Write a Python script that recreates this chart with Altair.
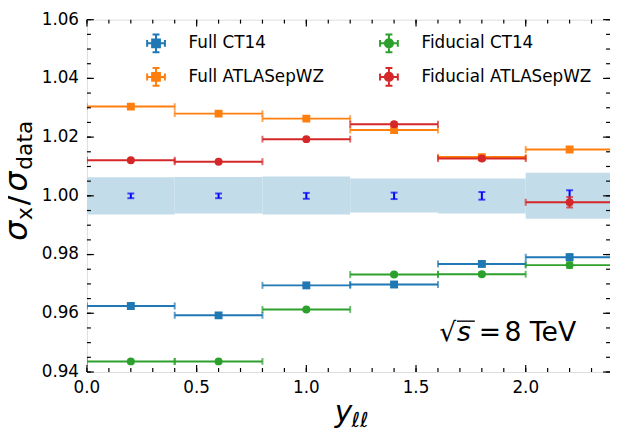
import altair as alt
import pandas as pd

# ---------------- data ----------------
bin_lo = [0.0, 0.4, 0.8, 1.2, 1.6, 2.0]
bin_hi = [0.4, 0.8, 1.2, 1.6, 2.0, 2.4]
bin_center = [0.2, 0.6, 1.0, 1.4, 1.8, 2.2]

full_ct14 = [0.9625, 0.9593, 0.9695, 0.9698, 0.9768, 0.9791]
full_ct14_err = [0.0004, 0.0004, 0.0005, 0.0005, 0.0006, 0.0010]
full_atlas = [1.0304, 1.0280, 1.0263, 1.0224, 1.0132, 1.0158]
full_atlas_err = [0.0004, 0.0004, 0.0005, 0.0005, 0.0006, 0.0008]
fid_ct14 = [0.9436, 0.9436, 0.9613, 0.9732, 0.9733, 0.9764]
fid_ct14_err = [0.0004, 0.0004, 0.0005, 0.0005, 0.0006, 0.0010]
fid_atlas = [1.0121, 1.0116, 1.0193, 1.0244, 1.0127, 0.9978]
fid_atlas_err = [0.0004, 0.0004, 0.0005, 0.0005, 0.0006, 0.0018]

data_ratio = [1.0, 1.0, 1.0, 1.0, 1.0, 1.0]
data_err = [0.0008, 0.0008, 0.0010, 0.0011, 0.0013, 0.0019]
band_down = [0.0064, 0.0060, 0.0064, 0.0057, 0.0060, 0.0078]
band_up = [0.0063, 0.0064, 0.0066, 0.0059, 0.0059, 0.0079]

series_names = ["Full CT14", "Full ATLASepWZ", "Fiducial CT14", "Fiducial ATLASepWZ"]
series_values = [full_ct14, full_atlas, fid_ct14, fid_atlas]
series_errs = [full_ct14_err, full_atlas_err, fid_ct14_err, fid_atlas_err]
series_colors = ["#1f77b4", "#ff7f0e", "#2ca02c", "#d62728"]
series_markers = ["square", "square", "circle", "circle"]

x_major = [0.0, 0.5, 1.0, 1.5, 2.0]
x_labels = ["0.0", "0.5", "1.0", "1.5", "2.0"]
x_minor = [round(0.1 * i, 2) for i in range(0, 25)]
y_major = [0.94, 0.96, 0.98, 1.00, 1.02, 1.04, 1.06]
y_labels = ["0.94", "0.96", "0.98", "1.00", "1.02", "1.04", "1.06"]
y_minor = [round(0.94 + 0.005 * i, 4) for i in range(0, 25)]

# ---------------- layout ----------------
W, H = 530, 357
PX_PER_X = 222.3
X_MAX = W / PX_PER_X
FONT = "DejaVu Sans"

XS = alt.Scale(domain=[0, X_MAX], nice=False, zero=False)
YS = alt.Scale(domain=[0.94, 1.06], nice=False, zero=False)

layers = []

# data uncertainty band
band_df = pd.DataFrame({"lo": bin_lo, "hi": bin_hi, "r": data_ratio,
                        "dn": band_down, "up": band_up})
band = alt.Chart(band_df).transform_calculate(
    y0="datum.r - datum.dn", y1="datum.r + datum.up"
).mark_rect(color="#c3dcea", clip=True).encode(
    x=alt.X("lo:Q", scale=XS, axis=None), x2="hi:Q",
    y=alt.Y("y0:Q", scale=YS, axis=None), y2="y1:Q",
)
layers.append(band)

# data error bars
data_df = pd.DataFrame({"x": bin_center, "r": data_ratio, "e": data_err})
dbase = alt.Chart(data_df).transform_calculate(
    ylo="datum.r - datum.e", yhi="datum.r + datum.e")
layers.append(dbase.mark_rule(color="#0000ff", strokeWidth=2).encode(
    x=alt.X("x:Q", scale=XS, axis=None),
    y=alt.Y("ylo:Q", scale=YS, axis=None), y2="yhi:Q"))
layers.append(dbase.transform_fold(["ylo", "yhi"], as_=["k", "ye"]).mark_tick(
    orient="horizontal", size=7, thickness=2, color="#0000ff").encode(
    x=alt.X("x:Q", scale=XS, axis=None),
    y=alt.Y("ye:Q", scale=YS, axis=None)))

# model series
for name, vals, errs, col, shp in zip(series_names, series_values, series_errs,
                                      series_colors, series_markers):
    df = pd.DataFrame({"lo": bin_lo, "hi": bin_hi, "x": bin_center,
                       "y": vals, "e": errs})
    base = alt.Chart(df).transform_calculate(
        ylo="datum.y - datum.e", yhi="datum.y + datum.e")
    layers.append(base.mark_rule(color=col, strokeWidth=2, clip=True).encode(
        x=alt.X("lo:Q", scale=XS, axis=None), x2="hi:Q",
        y=alt.Y("y:Q", scale=YS, axis=None)))
    layers.append(base.transform_fold(["lo", "hi"], as_=["k", "xe"]).mark_tick(
        orient="vertical", size=7, thickness=2, color=col, clip=True).encode(
        x=alt.X("xe:Q", scale=XS, axis=None),
        y=alt.Y("y:Q", scale=YS, axis=None)))
    layers.append(base.mark_rule(color=col, strokeWidth=2, clip=True).encode(
        x=alt.X("x:Q", scale=XS, axis=None),
        y=alt.Y("ylo:Q", scale=YS, axis=None), y2="yhi:Q"))
    layers.append(base.transform_fold(["ylo", "yhi"], as_=["k", "ye"]).mark_tick(
        orient="horizontal", size=7, thickness=2, color=col, clip=True).encode(
        x=alt.X("x:Q", scale=XS, axis=None),
        y=alt.Y("ye:Q", scale=YS, axis=None)))
    layers.append(base.mark_point(shape=shp, filled=True, size=64, color=col,
                                  opacity=1, clip=True).encode(
        x=alt.X("x:Q", scale=XS, axis=None),
        y=alt.Y("y:Q", scale=YS, axis=None)))

# inward ticks on all four sides
def xticks(vals, length, side):
    df = pd.DataFrame({"v": vals})
    y0, y1 = (H, H - length) if side == "bottom" else (0, length)
    return alt.Chart(df).mark_rule(color="black", strokeWidth=1.2).encode(
        x=alt.X("v:Q", scale=XS, axis=None), y=alt.value(y0), y2=alt.value(y1))

def yticks(vals, length, side):
    df = pd.DataFrame({"v": vals})
    x0, x1 = (0, length) if side == "left" else (W, W - length)
    return alt.Chart(df).mark_rule(color="black", strokeWidth=1.2).encode(
        y=alt.Y("v:Q", scale=YS, axis=None), x=alt.value(x0), x2=alt.value(x1))

for side in ["bottom", "top"]:
    layers.append(xticks(x_major, 7, side))
    layers.append(xticks(x_minor, 4, side))
for side in ["left", "right"]:
    layers.append(yticks(y_major, 7, side))
    layers.append(yticks(y_minor, 4, side))

# tick labels, positioned through the scales
layers.append(alt.Chart(pd.DataFrame({"v": x_major, "t": x_labels})).mark_text(
    align="center", baseline="top", font=FONT, fontSize=17, color="black").encode(
    x=alt.X("v:Q", scale=XS, axis=None), y=alt.value(H + 8), text="t:N"))
layers.append(alt.Chart(pd.DataFrame({"v": y_major, "t": y_labels})).mark_text(
    align="right", baseline="middle", font=FONT, fontSize=17, color="black").encode(
    y=alt.Y("v:Q", scale=YS, axis=None), x=alt.value(-8), text="t:N"))

# legend (native Vega-Lite legend with error-bar-cross symbols)
legend_colors = series_colors
cross = ("M-1,0H1M0,-1V1M-1,-0.39V0.39M1,-0.39V0.39"
         "M-0.39,-1H0.39M-0.39,1H0.39")
sq = "M-0.44,-0.44H0.44V0.44H-0.44Z"
circ = "M-0.46,0A0.46,0.46,0,1,0,0.46,0A0.46,0.46,0,1,0,-0.46,0Z"
legend_paths = [cross + sq, cross + sq, cross + circ, cross + circ]

def make_legend():
    return alt.Legend(title=None, orient="none", legendX=60, legendY=14,
                      columns=2, columnPadding=52, rowPadding=8,
                      symbolSize=324, symbolStrokeWidth=2, symbolOpacity=1,
                      labelFont=FONT, labelFontSize=17, labelColor="black",
                      labelOffset=23, labelLimit=400, padding=0)

carrier = alt.Chart(pd.DataFrame({"series": series_names})).transform_filter(
    "datum.series == 'none'"
).mark_point(filled=False, strokeWidth=2).encode(
    color=alt.Color("series:N", scale=alt.Scale(domain=series_names, range=legend_colors),
                    legend=make_legend()),
    fill=alt.Fill("series:N", scale=alt.Scale(domain=series_names, range=legend_colors),
                  legend=make_legend()),
    shape=alt.Shape("series:N", scale=alt.Scale(domain=series_names, range=legend_paths),
                    legend=make_legend()),
)
layers.append(carrier)

# annotation  sqrt(s) = 8 TeV
def label(txt, x, y, size, style="normal", angle=None, align="left"):
    kw = dict(align=align, baseline="alphabetic", font=FONT, fontSize=size,
              fontStyle=style, color="black")
    if angle is not None:
        kw["angle"] = angle
    return alt.Chart(pd.DataFrame({"t": [txt]})).mark_text(**kw).encode(
        x=alt.value(x), y=alt.value(y), text="t:N")

layers.append(label("\u221a", 357, 326, 27))
layers.append(label("s", 375, 326, 27, "italic"))
layers.append(alt.Chart(pd.DataFrame({"t": [0]})).mark_rule(
    color="black", strokeWidth=1.4).encode(
    x=alt.value(375), x2=alt.value(393), y=alt.value(305.5)))
layers.append(label("=", 397, 326, 27))
layers.append(label("8 TeV", 423, 326, 27))

# x-axis title  y_ll
layers.append(label("y", 251, 408, 30, "italic"))
layers.append(label("\u2113\u2113", 268, 413, 21, "italic"))

# y-axis title  sigma_x / sigma_data (rotated)
layers.append(label("\u03c3", -61, 224, 32, "italic", angle=270))
layers.append(label("x", -56, 203, 22, angle=270))
layers.append(label("/", -61, 188, 32, angle=270))
layers.append(label("\u03c3", -61, 174, 32, "italic", angle=270))
layers.append(label("data", -56, 152, 22, angle=270))

chart = alt.layer(*layers).properties(
    width=W, height=H,
    autosize=alt.AutoSizeParams(type="none"),
    padding={"left": 80, "top": 9, "right": 0, "bottom": 60},
).configure_view(stroke="black", strokeWidth=2).configure(font=FONT)

chart.save("out.html", embed_options={"renderer": "svg", "actions": False})
